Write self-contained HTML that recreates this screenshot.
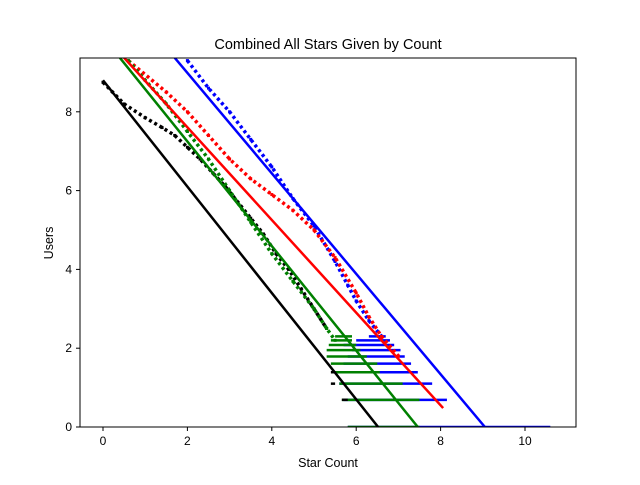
<!DOCTYPE html>
<html><head><meta charset="utf-8"><style>
body{margin:0;background:#fff;font-family:"Liberation Sans",sans-serif}
</style></head><body>
<svg id="chart" width="640" height="480" font-family="Liberation Sans, sans-serif"></svg>
<script>
const xTicks=[0,2,4,6,8,10];
const yTicks=[0,2,4,6,8];
const blackCurve=[[0,8.75],[0.5,8.2],[1,7.85],[1.4,7.6],[1.7,7.4],[2,7.1],[2.3,6.8],[2.6,6.45],[2.9,6.1],[3.2,5.7],[3.5,5.3],[3.8,4.9],[4.1,4.4],[4.4,4.0],[4.7,3.5],[5,3.0],[5.3,2.5]];
const greenCurve=[[0.6,9.3],[1,8.8],[1.5,8.2],[2,7.5],[2.5,6.8],[3,6.0],[3.5,5.2],[4,4.4],[4.5,3.7],[5,3.0],[5.3,2.5],[5.5,2.2]];
const redCurve=[[0.6,9.3],[1.5,8.5],[2,8.0],[2.5,7.4],[3,6.8],[3.5,6.3],[4,5.9],[4.5,5.5],[5,5.0],[5.5,4.3],[6,3.4],[6.3,2.8],[6.6,2.3],[7,1.8]];
const blueCurve=[[2.0,9.3],[2.5,8.6],[3,8.0],[3.5,7.3],[4,6.6],[4.5,5.8],[5,5.1],[5.5,4.2],[5.8,3.6],[6,3.2],[6.3,2.7],[6.6,2.3]];
const blueStripes=[[0,5.8,10.6],[0.69,5.7,8.15],[1.1,5.6,7.8],[1.39,5.6,7.46],[1.61,5.7,7.3],[1.79,5.8,7.15],[1.95,5.9,7.05],[2.08,5.7,6.9],[2.2,6.0,6.8],[2.3,6.3,6.7]];
const greenStripes=[[0,5.8,7.5],[0.69,5.66,7.5],[1.1,5.6,7.1],[1.39,5.45,6.56],[1.61,5.4,6.5],[1.79,5.3,6.25],[1.95,5.3,6.1],[2.08,5.35,6.0],[2.2,5.4,5.9],[2.3,5.5,5.9]];
const blackStripes=[[0.69,5.66,5.8],[1.1,5.4,5.5],[1.39,5.4,5.5]];
const fitLines={black:[[0,8.8],[6.52,0]],green:[[0.4,9.37],[7.46,0]],red:[[0.5,9.37],[8.06,0.48]],blue:[[1.7,9.37],[9.05,0]]};
const svg=document.getElementById('chart');const NS='http://www.w3.org/2000/svg';
const px=x=>103+42.2*x, py=y=>427-39.4*y;
function mk(t,a,p){const e=document.createElementNS(NS,t);for(const k in a)e.setAttribute(k,a[k]);(p||svg).appendChild(e);return e;}
const clip=mk('clipPath',{id:'c'});mk('rect',{x:80,y:58,width:496,height:369},clip);
const g=mk('g',{'clip-path':'url(#c)'});


const cols={black:'#000',green:'#008000',red:'#ff0000',blue:'#0000ff'};
function stripes(arr,c,name){arr.forEach(s=>{const e=mk('line',{x1:px(s[1]),x2:px(s[2]),y1:py(s[0]),y2:py(s[0]),stroke:c,'stroke-width':2.5},g);

});}
function curve(arr,c,name){const e=mk('polyline',{points:arr.map(p=>px(p[0])+','+py(p[1])).join(' '),fill:'none',stroke:c,'stroke-width':3.5,'stroke-dasharray':'3 3'},g);


arr.forEach(p=>{const r=mk('rect',{x:px(p[0])-1.5,y:py(p[1])-1.5,width:3,height:3,fill:c},g);

});}
function fit(k){const l=fitLines[k];const e=mk('line',{x1:px(l[0][0]),y1:py(l[0][1]),x2:px(l[1][0]),y2:py(l[1][1]),stroke:cols[k],'stroke-width':2.5},g);

}
stripes(blueStripes,cols.blue,'blue-stripe');
curve(blueCurve,cols.blue,'blue-series');
curve(redCurve,cols.red,'red-series');
stripes(greenStripes,cols.green,'green-stripe');
stripes(blackStripes,cols.black,'black-stripe');
curve(blackCurve,cols.black,'black-series');
curve(greenCurve,cols.green,'green-series');
['black','green','red','blue'].forEach(fit);
const fr=mk('rect',{x:80,y:58,width:496,height:369,fill:'none',stroke:'#000','stroke-width':1});


xTicks.forEach(t=>{mk('line',{x1:px(t),x2:px(t),y1:427,y2:431,stroke:'#000'});const e=mk('text',{x:px(t),y:445,'font-size':12,'text-anchor':'middle'});e.textContent=t;

});
yTicks.forEach(t=>{mk('line',{x1:76,x2:80,y1:py(t),y2:py(t),stroke:'#000'});const e=mk('text',{x:72,y:py(t)+4,'font-size':12,'text-anchor':'end'});e.textContent=t;

});
let e=mk('text',{x:328,y:49,'font-size':14.5,'text-anchor':'middle'});e.textContent='Combined All Stars Given by Count';


e=mk('text',{x:328,y:467,'font-size':12.5,'text-anchor':'middle'});e.textContent='Star Count';


e=mk('text',{x:53,y:243,'font-size':12.5,'text-anchor':'middle',transform:'rotate(-90 53 243)'});e.textContent='Users';


</script>
</body></html>
